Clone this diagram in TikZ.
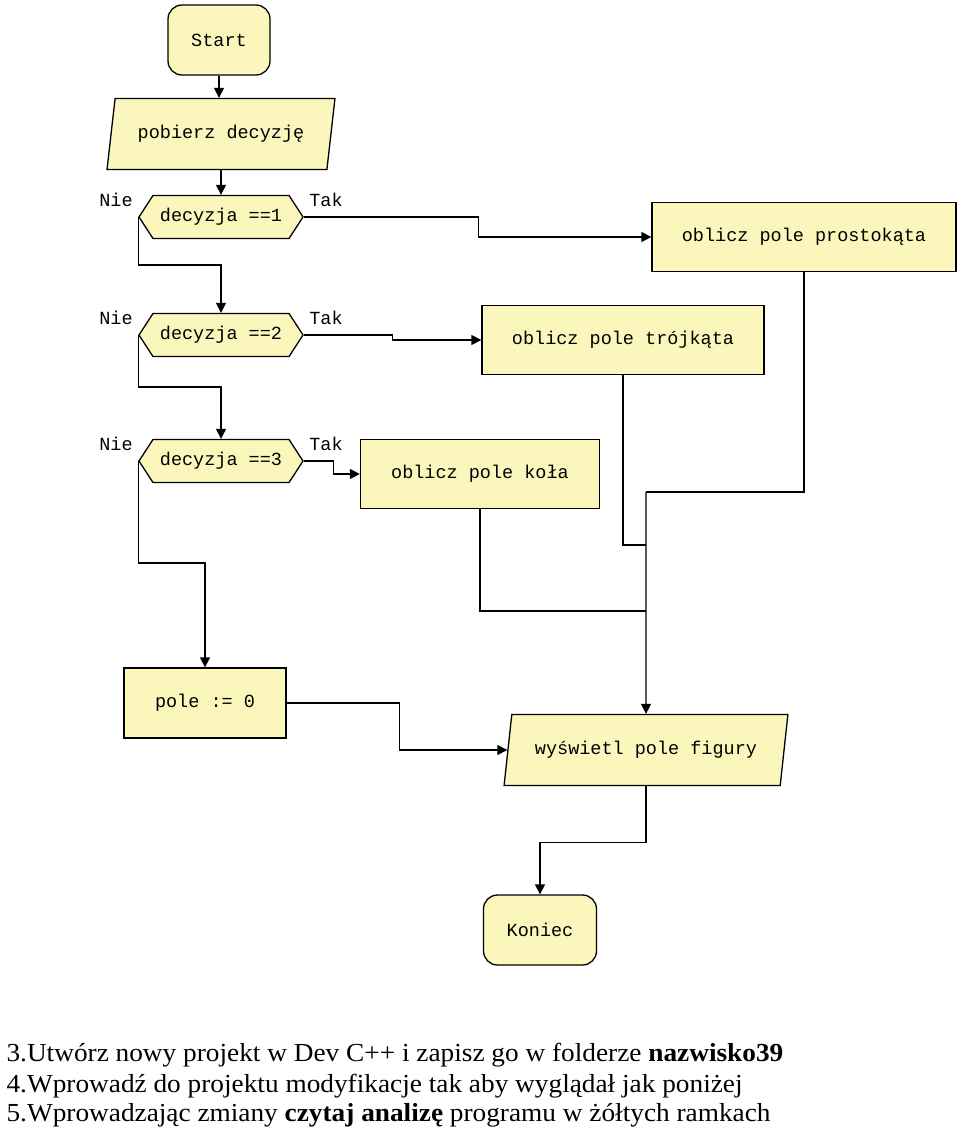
\documentclass[tikz,border=0pt]{standalone}
\usepackage{fontspec}
\setmainfont{Liberation Serif}[FakeStretch=1.05]
\newfontfamily\flowfont{Liberation Mono}
\usepackage{xcolor}
\usetikzlibrary{arrows.meta, positioning, shapes.geometric, shapes.symbols}
\definecolor{boxyellow}{RGB}{251,247,188}

\begin{document}
\begin{tikzpicture}[x=1pt, y=-1pt,
        block/.style={draw, line width=1.3pt, fill=boxyellow, inner sep=2pt, font=\flowfont\fontsize{18.5}{20}\selectfont},
        terminal/.style={block, rounded corners=14pt, minimum height=70pt},
        process/.style={block, minimum height=69pt},
        io/.style={block, trapezium, trapezium left angle=73, trapezium right angle=107, trapezium stretches=true, minimum height=71pt},
        decision/.style={block, signal, signal to=east and west, signal pointer angle=114, minimum height=43pt, minimum width=164pt},
        branch/.style={font=\flowfont\fontsize{18.5}{20}\selectfont},
        wire/.style={line width=1.3pt},
        flow/.style={wire, -{Triangle[length=10pt, width=10pt]}},
        step text/.style={anchor=base west, font=\fontsize{26}{30}\selectfont}]
        \useasboundingbox (0,0) rectangle (960,1130);

        % Blocks
        \node[terminal, minimum width=102pt] (start) at (219,40) {Start};
        \node[io, minimum width=228pt] (pobierz) at (221,134) {pobierz decyzję};
        \node[decision] (dec1) at (221,217) {decyzja ==1};
        \node[decision] (dec2) at (221,335) {decyzja ==2};
        \node[decision] (dec3) at (221,461) {decyzja ==3};
        \node[process, minimum width=304pt] (prostokat) at (804,237) {oblicz pole prostokąta};
        \node[process, minimum width=282pt] (trojkat) at (623,340) {oblicz pole trójkąta};
        \node[process, minimum width=239pt] (kolo) at (480,474) {oblicz pole koła};
        \node[process, minimum width=162pt, minimum height=70pt] (zero) at (205,703) {pole := 0};
        \node[io, minimum width=284pt] (wyswietl) at (646,750) {wyświetl pole figury};
        \node[terminal, minimum width=113pt] (koniec) at (540,930) {Koniec};

        % Nie / Tak labels
        \foreach \d in {dec1, dec2, dec3} {
            \node[branch, anchor=base east] (\d nie) at ([xshift=-2pt, yshift=11pt]\d.west) {Nie};
            \node[branch, anchor=base west] (\d tak) at ([xshift=2pt, yshift=11pt]\d.east) {Tak};
        }

        % Main line
        \draw[flow] (start.south) -- (start.south |- pobierz.north);
        \draw[flow] (pobierz.south -| dec1.north) -- (dec1.north);

        % Tak branches
        \draw[flow] (dec1.east) -- ++(175,0) |- (prostokat.west);
        \draw[flow] (dec2.east) -- ++(89,0) |- (trojkat.west);
        \draw[flow] (dec3.east) -- ++(30,0) |- (kolo.west);

        % Nie branches
        \draw[flow] (dec1.west) -- ++(0,48) -| (dec2.north);
        \draw[flow] (dec2.west) -- ++(0,52) -| (dec3.north);
        \draw[flow] (dec3.west) -- ++(0,102) -| (zero.north);
        \draw[flow] (zero.east) -- ++(113,0) |- (wyswietl.180);

        % Joining the results
        \coordinate (join1) at (646,492);
        \coordinate (join2) at (646,545);
        \coordinate (join3) at (646,611);
        \draw[wire] (prostokat.south) |- (join1);
        \draw[wire] (trojkat.south) |- (join2);
        \draw[wire] (kolo.south) |- (join3);
        \draw[flow] (join1) -- (wyswietl.north);
        \draw[flow] (wyswietl.south) -- ++(0,56) -| (koniec.north);

        % Instructions
        \node[step text] (krok3) at (3,1061) {3.Utwórz nowy projekt w Dev C++ i zapisz go w folderze \textbf{nazwisko39}};
        \node[step text] (krok4) at (3,1092) {4.Wprowadź do projektu modyfikacje tak aby wyglądał jak poniżej};
        \node[step text] (krok5) at (3,1121) {5.Wprowadzając zmiany \textbf{czytaj analizę} programu w żółtych ramkach};
\end{tikzpicture}
\end{document}
